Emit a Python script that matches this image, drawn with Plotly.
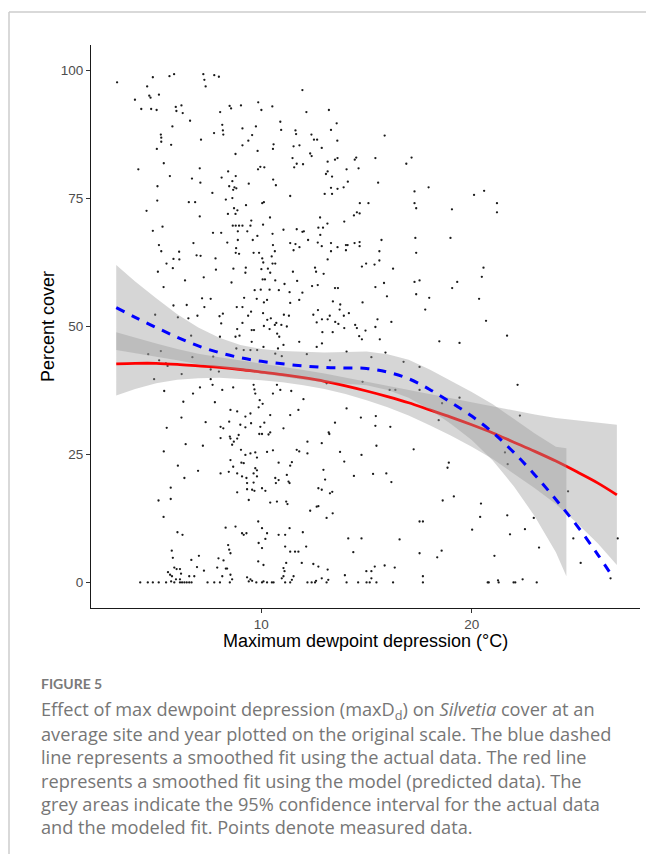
import plotly.graph_objects as go

# ---------------- data ----------------
# measured points: (max dewpoint depression, percent cover)
measured_points = [
    (3.14, 97.7), (3.99, 94.3), (4.15, 80.7), (4.29, 92.5), (4.57, 96.9), (4.67, 95.1), (4.73, 94.7),
    (4.76, 92.5), (4.84, 98.7), (5.02, 92.3), (5.13, 95.3), (5.22, 87.5), (5.24, 86.9), (5.24, 86.1),
    (5.03, 84.7), (5.06, 77.4), (5.05, 74.6), (5.36, 81.9), (5.30, 69.5), (4.54, 72.6), (4.84, 68.7),
    (5.13, 65.9), (5.24, 64.7), (5.08, 60.7), (5.35, 57.7), (5.49, 62.3), (5.65, 79.4), (5.71, 85.5),
    (5.77, 89.1), (5.79, 61.4), (5.82, 63.2), (5.85, 99.3), (5.63, 98.9), (5.93, 92.9), (5.96, 92.1),
    (6.20, 93.2), (6.26, 91.7), (6.09, 64.6), (6.10, 63.1), (5.82, 54.1), (6.37, 59.0), (6.45, 54.2),
    (6.53, 51.6), (6.55, 74.3), (6.61, 90.2), (6.70, 78.9), (6.77, 66.3), (6.85, 74.3), (6.92, 63.9),
    (7.07, 71.5), (7.07, 80.9), (7.10, 78.1), (7.13, 86.5), (7.24, 99.3), (7.29, 98.2), (7.35, 96.9),
    (7.11, 63.8), (7.26, 59.6), (7.29, 53.8), (7.59, 55.4), (7.67, 76.1), (7.70, 68.3), (7.75, 87.8),
    (7.76, 99.1), (7.82, 63.3), (7.84, 61.1), (7.98, 98.8), (8.04, 91.9), (8.09, 68.3), (8.11, 79.1),
    (8.14, 89.4), (8.17, 88.3), (8.19, 87.5), (8.31, 74.8), (8.38, 66.4), (8.41, 72.0), (8.42, 80.3),
    (8.47, 77.4), (8.49, 93.1),
    (4.95, 52.3), (6.03, 51.8), (6.66, 48.2), (6.96, 52.1), (7.18, 55.5), (8.01, 52.0), (8.03, 48.0),
    (8.17, 52.5), (8.09, 50.6),
    # upper middle
    (11.95, 96.2), (8.56, 92.6), (9.03, 93.2), (9.85, 93.8), (10.0, 92.3), (10.52, 93.0), (12.14, 91.9),
    (13.21, 92.3), (10.9, 90.0), (10.94, 88.4), (9.74, 89.1), (9.10, 88.7), (9.56, 87.4), (9.38, 86.3),
    (9.10, 85.4), (9.82, 84.3), (8.77, 83.7), (10.58, 85.6), (10.55, 84.7), (11.62, 88.3), (11.65, 87.6),
    (11.81, 85.4), (11.53, 85.2), (12.38, 87.5), (12.5, 86.5), (12.65, 86.5), (12.87, 84.9), (13.31, 88.4),
    (13.58, 89.7), (13.61, 86.3), (12.32, 83.8), (12.39, 83.3), (11.48, 82.9), (11.68, 81.8), (11.98, 81.7),
    (11.56, 81.1), (13.15, 82.2), (13.5, 82.6), (13.62, 82.9), (14.44, 82.6), (14.51, 83.0), (15.42, 82.9),
    (15.86, 87.3), (16.89, 81.8), (17.14, 83.0), (9.95, 81.2), (10.14, 81.1), (9.84, 80.7), (8.78, 79.4),
    (8.62, 78.4), (8.72, 77.2), (8.81, 77.0), (8.66, 76.7), (9.40, 77.9), (10.56, 78.7), (10.69, 77.6),
    (11.37, 75.5), (8.62, 75.1), (10.04, 74.1), (10.12, 74.3), (9.27, 73.7), (13.07, 79.8), (13.15, 80.3),
    (13.36, 79.3), (13.31, 77.1), (13.62, 76.9), (14.05, 80.7), (14.11, 78.3), (13.91, 77.2), (14.62, 80.9),
    (13.36, 75.9), (13.01, 75.9), (15.55, 78.1), (14.68, 74.1), (15.09, 74.1), (17.28, 76.4), (17.95, 77.2),
    (17.28, 74.1), (17.36, 73.1), (8.70, 73.1), (8.86, 72.7), (8.77, 72.0), (10.41, 71.3), (9.52, 70.7),
    (12.79, 71.3), (14.4, 71.7), (14.54, 72.3), (14.67, 72.1), (13.94, 70.5), (13.14, 70.1), (10.08, 69.9),
    (8.78, 69.7), (8.94, 69.7), (9.10, 69.7), (9.48, 69.7), (8.64, 69.7), (8.88, 68.6), (9.33, 68.6),
    (11.05, 68.9), (11.68, 69.0), (11.95, 68.5), (12.02, 68.6), (12.71, 69.3), (12.93, 69.3), (12.8, 67.9),
    (10.53, 68.1), (9.81, 67.7), (12.22, 66.9), (8.88, 66.9), (9.59, 66.9), (11.37, 66.3), (11.62, 66.1),
    (12.68, 66.4), (12.87, 65.7), (13.31, 66.3), (14.02, 65.9), (14.1, 65.9), (14.43, 66.3), (14.67, 66.5),
    (14.67, 65.7), (15.71, 66.9), (17.32, 67.3), (10.55, 65.9), (8.80, 65.3), (8.78, 64.4), (8.94, 64.2),
    (9.63, 64.4), (9.89, 64.4), (10.64, 64.7), (10.49, 63.7), (11.53, 64.9), (11.81, 65.5), (13.62, 65.5),
    (13.31, 64.7), (14.02, 64.9), (15.61, 64.7), (17.36, 64.4), (13.15, 63.1), (10.04, 63.3), (10.53, 62.3),
    (10.66, 62.3), (10.09, 62.5), (14.98, 62.3), (14.78, 61.7), (15.38, 62.1), (15.61, 62.9), (16.26, 61.3),
    (8.67, 61.3), (9.26, 61.5), (9.24, 60.5), (10.0, 61.2), (10.31, 61.3), (10.42, 60.5), (11.5, 60.7),
    (12.55, 61.5), (12.6, 60.7), (12.96, 60.3), (10.06, 59.2), (10.17, 59.2), (10.66, 59.0), (11.1, 58.3),
    (11.7, 58.9), (12.41, 57.9), (12.68, 58.1), (13.5, 57.5), (13.64, 57.5), (15.42, 57.7), (15.83, 58.5),
    (17.28, 58.7), (17.52, 59.0), (8.58, 58.6), (9.68, 57.1), (9.97, 57.2), (10.39, 57.2), (10.83, 57.1),
    (11.34, 56.7), (11.37, 54.6), (11.8, 55.2), (11.95, 56.6), (9.18, 55.6), (9.78, 55.4), (10.12, 54.7),
    (10.27, 55.2), (13.4, 54.9), (13.75, 54.3), (14.81, 54.7), (15.97, 55.9), (17.36, 56.3), (17.98, 55.6),
    (17.79, 53.3), (8.83, 53.8), (9.10, 53.8), (9.51, 52.9), (9.37, 52.1), (10.08, 52.6), (10.28, 51.3),
    (10.45, 51.6), (10.64, 50.3), (10.71, 50.7), (11.07, 52.3), (11.31, 52.1), (10.95, 50.3), (11.21, 50.0),
    (12.47, 52.3), (12.69, 53.2), (12.88, 51.4), (13.15, 51.4), (13.25, 52.1), (13.72, 53.3), (14.16, 52.6),
    (13.92, 52.1), (12.63, 50.8), (13.51, 50.9), (13.66, 50.5), (13.94, 49.7), (14.46, 50.3), (14.54, 49.7),
    (14.95, 49.2), (15.42, 49.9), (15.52, 51.4), (16.18, 50.9), (8.85, 49.5), (9.10, 50.7), (10.12, 50.1),
    (9.54, 49.3), (9.65, 49.3), (10.39, 49.5), (10.75, 48.6), (10.85, 48.0), (8.77, 48.0), (8.96, 48.2),
    (12.9, 48.9), (13.39, 48.9), (14.65, 48.1), (14.78, 47.5), (15.63, 47.5),
    # right upper
    (20.59, 76.5), (20.11, 75.7), (21.2, 74.1), (19.06, 72.9), (21.2, 72.3), (18.99, 67.3), (20.56, 61.5),
    (20.48, 59.7), (19.31, 58.7), (19.07, 57.5), (20.35, 55.4), (20.68, 51.1), (21.68, 48.2),
    # right lower
    (18.46, 47.1), (19.42, 46.8), (22.18, 38.6), (22.29, 32.6), (19.42, 36.1), (18.91, 23.4), (18.85, 22.4),
    (21.58, 25.4), (21.71, 23.1), (18.62, 16.0), (19.15, 16.8), (20.44, 15.4), (24.58, 17.8), (20.4, 12.8),
    (21.69, 13.1), (20.02, 10.3), (22.53, 10.4), (21.82, 9.4), (22.95, 12.6), (24.83, 8.6), (26.94, 8.6),
    (18.57, 6.2), (18.36, 4.9), (21.08, 5.2), (23.2, 6.8), (25.18, 3.8), (20.76, 0.0), (20.81, 0.0),
    (21.25, 0.4), (21.28, 0.0), (21.99, 0.0), (22.07, 0.0), (22.42, 0.6), (23.09, 0.0), (26.6, 0.8),
    # lower left
    (4.62, 44.6), (5.14, 43.4), (5.22, 45.2), (5.46, 42.8), (5.54, 42.3), (6.72, 44.0), (7.59, 41.6),
    (7.71, 44.1), (7.98, 41.2), (4.90, 39.7), (5.38, 37.4), (6.21, 40.7), (6.29, 35.3), (6.75, 36.9),
    (7.08, 38.1), (7.59, 39.7), (7.68, 38.6), (7.79, 35.2), (8.14, 37.6), (6.20, 32.2), (7.35, 31.3),
    (8.47, 31.4), (5.50, 30.2), (6.40, 27.0), (7.22, 26.7), (8.06, 30.4), (8.19, 30.1), (8.06, 28.2),
    (8.50, 28.5), (5.36, 25.6), (6.03, 22.8), (6.34, 20.4), (8.06, 21.3), (8.45, 21.6), (6.99, 21.8),
    (5.11, 16.0), (5.69, 18.5), (5.69, 16.3), (5.35, 12.8), (6.01, 9.8), (6.25, 9.3), (8.30, 10.7),
    (5.56, 2.0), (5.66, 1.5), (5.75, 1.2), (5.97, 2.6), (6.13, 2.6), (6.18, 1.7), (6.13, 0.6), (5.94, 0.6),
    (5.71, 0.2), (5.86, 2.9), (6.57, 1.2), (6.81, 1.2), (6.94, 3.0), (6.67, 4.4), (7.03, 5.2), (7.90, 2.9),
    (7.96, 4.7), (8.20, 4.3), (8.31, 2.7), (8.37, 2.7), (8.42, 7.3), (8.47, 6.4), (5.74, 6.2), (5.79, 4.8),
    (8.14, 1.2), (7.27, 2.3),
    (4.24, 0.0), (4.60, 0.0), (4.84, 0.0), (5.12, 0.0), (5.47, 0.0), (5.86, 0.0), (6.13, 0.0), (6.23, 0.0),
    (6.34, 0.0), (6.45, 0.0), (6.57, 0.0), (6.68, 0.0), (7.44, 0.0), (7.76, 0.0), (8.03, 0.0), (8.50, 0.0),
    # lower middle
    (12.88, 46.7), (9.54, 47.0), (11.8, 47.0), (12.16, 44.6), (14.05, 45.1), (15.23, 44.0), (15.9, 44.9),
    (16.76, 43.1), (17.52, 42.1), (10.66, 44.7), (10.97, 44.2), (10.79, 45.7), (11.05, 46.4), (9.48, 45.4),
    (9.80, 45.4), (10.1, 46.0), (8.81, 45.7), (9.16, 45.4), (13.26, 43.4), (12.63, 46.0), (13.1, 38.9),
    (14.81, 39.2), (10.74, 38.6), (10.9, 37.6), (10.55, 36.9), (11.42, 37.4), (8.66, 38.1), (9.63, 38.6),
    (9.67, 37.7), (9.71, 36.9), (16.1, 37.6), (16.37, 37.6), (17.52, 37.6), (12.0, 35.8), (9.92, 35.6),
    (10.06, 34.9), (9.87, 34.2), (11.76, 33.7), (8.85, 33.4), (8.53, 33.7), (14.05, 34.0), (9.48, 33.0),
    (9.24, 32.4), (11.37, 32.7), (10.42, 32.7), (13.5, 31.2), (14.73, 32.2), (15.44, 32.5), (18.59, 35.0),
    (18.43, 31.7), (9.00, 30.8), (9.24, 30.3), (9.51, 31.1), (10.14, 31.2), (9.95, 30.4), (11.05, 30.1),
    (13.2, 29.3), (13.23, 29.0), (15.42, 30.6), (16.13, 30.4), (8.92, 28.8), (8.85, 28.1), (8.69, 27.5),
    (8.61, 26.9), (9.90, 29.0), (10.03, 29.0), (10.34, 28.9), (10.42, 29.3), (12.87, 27.2), (8.53, 28.1),
    (12.19, 27.5), (15.47, 26.7), (17.24, 26.0), (9.03, 25.9), (9.24, 24.9), (9.48, 25.2), (9.71, 25.4),
    (9.79, 24.4), (10.27, 25.5), (10.55, 25.8), (11.68, 25.9), (11.8, 25.6), (12.19, 25.2), (13.74, 25.5),
    (14.76, 24.9), (8.53, 23.9), (9.05, 23.4), (9.16, 23.3), (10.82, 23.4), (11.45, 23.5), (11.37, 22.8),
    (13.94, 23.6), (15.31, 21.2), (15.94, 21.3), (16.18, 19.6), (14.4, 20.8), (8.66, 22.6), (8.85, 21.3),
    (9.08, 20.7), (9.32, 19.4), (9.71, 22.3), (9.79, 21.9), (9.63, 21.3), (9.79, 20.7), (9.29, 20.4),
    (9.63, 19.5), (10.66, 20.4), (10.82, 20.0), (10.69, 19.4), (11.21, 21.0), (11.29, 19.7), (11.34, 19.4),
    (12.95, 22.0), (12.71, 18.4), (12.87, 18.1), (13.26, 17.4), (13.37, 17.7), (13.03, 20.1), (8.85, 17.6),
    (9.32, 18.2), (9.56, 18.1), (9.67, 17.9), (10.03, 18.4), (10.19, 17.9), (10.42, 15.6), (9.40, 16.1),
    (10.74, 15.8), (11.18, 15.8), (11.24, 15.3), (12.32, 14.0), (12.63, 14.8), (12.71, 14.9), (13.39, 13.5),
    (13.1, 12.6), (17.52, 11.9), (17.68, 11.9), (8.77, 10.9), (9.08, 9.6), (9.16, 9.3), (9.29, 9.6),
    (9.85, 11.9), (10.03, 10.6), (10.19, 8.5), (10.27, 9.6), (9.87, 7.7), (10.03, 6.7), (10.82, 9.3),
    (11.13, 9.3), (11.34, 10.6), (11.97, 9.8), (11.13, 7.0), (11.37, 6.0), (11.6, 6.0), (11.76, 6.0),
    (12.13, 7.0), (14.13, 8.6), (14.76, 8.6), (16.57, 8.4), (17.52, 5.7), (8.53, 5.7), (9.85, 4.1),
    (10.1, 3.4), (11.18, 3.8), (11.05, 2.8), (11.1, 2.2), (11.92, 3.8), (12.47, 3.6), (12.71, 3.1),
    (13.15, 2.5), (14.37, 5.9), (15.39, 3.1), (15.86, 3.3), (16.34, 2.9), (14.99, 2.2), (15.23, 2.2),
    (17.68, 1.2), (8.53, 1.5), (8.61, 0.6),
    (9.32, 1.0), (9.48, 0.6), (9.56, 0.3), (9.40, 0.2), (9.76, 0.0), (10.03, 0.0), (10.1, 0.2), (10.27, 0.0),
    (10.5, 0.0), (10.58, 0.0), (10.97, 0.8), (11.05, 1.2), (11.13, 0.0), (11.37, 0.0), (11.45, 0.5),
    (11.53, 1.2), (12.19, 0.0), (12.39, 0.0), (12.55, 0.0), (12.6, 0.3), (12.87, 0.8), (13.1, 0.0),
    (13.18, 0.5), (13.97, 1.4), (14.05, 0.0), (14.6, 0.0), (15.0, 0.0), (15.15, 0.0), (15.23, 0.8),
    (15.47, 0.0), (16.26, 0.0), (17.68, 0.0),
]

# model (predicted) smooth -- red line with its 95% CI
model_x = [3.1, 4, 5, 6, 7, 8, 9, 10, 11, 12, 13, 14, 15, 16, 17, 18, 19, 20, 21, 22, 23, 24, 25, 26, 26.9]
model_fit = [42.7, 42.8, 42.8, 42.6, 42.3, 42.0, 41.6, 41.1, 40.6, 40.0, 39.3, 38.4, 37.4, 36.3, 35.1,
             33.7, 32.3, 30.8, 29.2, 27.4, 25.6, 23.7, 21.6, 19.4, 17.1]
model_lower = [36.5, 37.8, 38.9, 39.6, 39.9, 40.0, 39.8, 39.5, 39.1, 38.5, 37.8, 36.8, 35.6, 34.2, 32.6,
               30.7, 28.7, 26.5, 24.1, 21.3, 18.4, 15.3, 11.6, 7.6, 3.4]
model_upper = [48.9, 47.8, 46.7, 45.6, 44.7, 44.0, 43.4, 42.7, 42.1, 41.5, 40.8, 40.0, 39.2, 38.4, 37.6,
               36.7, 35.9, 35.1, 34.3, 33.5, 32.8, 32.1, 31.6, 31.2, 30.8]

# actual-data smooth -- blue dashed line with its 95% CI
data_x = [3.1, 4, 5, 6, 7, 8, 9, 10, 11, 12, 13, 14, 15, 16, 17, 18, 19, 20, 21, 22, 23, 24, 25, 26, 26.65]
data_fit = [53.7, 51.8, 49.8, 47.9, 46.2, 44.9, 43.9, 43.2, 42.7, 42.3, 42.0, 41.9, 41.8, 41.1, 39.8,
            37.7, 35.2, 32.5, 29.3, 25.4, 21.0, 16.2, 11.1, 5.4, 1.4]
data_band_x = [3.1, 4, 5, 6, 7, 8, 9, 10, 11, 12, 13, 14, 15, 16, 17, 18, 19, 20, 21, 22, 23, 24, 24.5]
data_lower = [45.4, 44.8, 44.1, 43.4, 42.6, 42.0, 41.4, 40.8, 40.2, 39.6, 39.1, 38.8, 38.5, 37.6, 36.1,
              33.8, 31.0, 27.8, 23.8, 18.8, 12.9, 5.9, 1.2]
data_upper = [62.0, 58.8, 55.5, 52.4, 49.8, 47.8, 46.4, 45.6, 45.2, 45.0, 44.9, 45.0, 45.1, 44.6, 43.5,
              41.6, 39.4, 37.2, 34.8, 32.0, 29.1, 26.5, 26.2]

x_ticks = [10, 20]
y_ticks = [0, 25, 50, 75, 100]

caption_title = "FIGURE 5"
caption_lines = [
    "Effect of max dewpoint depression (maxD<sub>d</sub>) on <i>Silvetia</i> cover at an",
    "average site and year plotted on the original scale. The blue dashed",
    "line represents a smoothed fit using the actual data. The red line",
    "represents a smoothed fit using the model (predicted data). The",
    "grey areas indicate the 95% confidence interval for the actual data",
    "and the modeled fit. Points denote measured data.",
]

# ---------------- layout geometry (pixels) ----------------
W, H = 646, 854
ML, MR, MT, MB = 91, 6, 45, 246
PW, PH = W - ML - MR, H - MT - MB


def px_x(p):
    return (p - ML) / PW


def px_y(p):
    return (H - MB - p) / PH


fig = go.Figure()

pts_x = [p[0] for p in measured_points]
pts_y = [p[1] for p in measured_points]
fig.add_trace(go.Scatter(x=pts_x, y=pts_y, mode="markers",
                         marker=dict(size=2.3, color="#1a1a1a", line=dict(width=0)),
                         hoverinfo="skip", showlegend=False))

band_fill = "rgba(153,153,153,0.4)"

fig.add_trace(go.Scatter(x=model_x + model_x[::-1], y=model_upper + model_lower[::-1],
                         fill="toself", fillcolor=band_fill, line=dict(width=0),
                         mode="lines", hoverinfo="skip", showlegend=False))
fig.add_trace(go.Scatter(x=model_x, y=model_fit, mode="lines",
                         line=dict(color="#ff0000", width=2.8, shape="spline"),
                         hoverinfo="skip", showlegend=False))
fig.add_trace(go.Scatter(x=data_band_x + data_band_x[::-1], y=data_upper + data_lower[::-1],
                         fill="toself", fillcolor=band_fill, line=dict(width=0),
                         mode="lines", hoverinfo="skip", showlegend=False))
fig.add_trace(go.Scatter(x=data_x, y=data_fit, mode="lines",
                         line=dict(color="#0000ff", width=3, dash="9px,8px", shape="spline"),
                         hoverinfo="skip", showlegend=False))

axis_common = dict(showgrid=False, zeroline=False, showline=True, linecolor="#1a1a1a", linewidth=1.1,
                   ticks="outside", ticklen=4, tickwidth=1, tickcolor="#333333",
                   tickfont=dict(family="Liberation Sans, Arial, sans-serif", size=13.5, color="#4d4d4d"))

fig.update_xaxes(range=[1.9, 28.0], tickvals=x_ticks, **axis_common)
fig.update_yaxes(range=[-5, 105], tickvals=y_ticks, **axis_common)

annotations = [
    dict(text="Maximum dewpoint depression (°C)", x=0.5, y=px_y(641), xref="paper", yref="paper",
         xanchor="center", yanchor="middle", showarrow=False,
         font=dict(family="Liberation Sans, Arial, sans-serif", size=18, color="#000000")),
    dict(text="Percent cover", x=px_x(47.5), y=0.5, xref="paper", yref="paper", textangle=-90,
         xanchor="center", yanchor="middle", showarrow=False,
         font=dict(family="Liberation Sans, Arial, sans-serif", size=18, color="#000000")),
    dict(text="<b>" + caption_title + "</b>", x=px_x(39), y=px_y(683), xref="paper", yref="paper",
         xanchor="left", yanchor="middle", showarrow=False,
         font=dict(family="Lato, sans-serif", size=14, color="#7a7a7a")),
]
for i, line in enumerate(caption_lines):
    annotations.append(dict(text=line, x=px_x(39), y=px_y(711 + 23.2 * i), xref="paper", yref="paper",
                            xanchor="left", yanchor="middle", showarrow=False,
                            font=dict(family="Open Sans, sans-serif", size=18.2, color="#767676")))

shapes = [
    dict(type="line", xref="paper", yref="paper", x0=px_x(9), x1=px_x(660), y0=px_y(12), y1=px_y(12),
         line=dict(color="#cccccc", width=1.5)),
    dict(type="line", xref="paper", yref="paper", x0=px_x(9), x1=px_x(9), y0=px_y(12), y1=px_y(870),
         line=dict(color="#cccccc", width=1.5)),
]

fig.update_layout(width=W, height=H, margin=dict(l=ML, r=MR, t=MT, b=MB, pad=0),
                  paper_bgcolor="white", plot_bgcolor="white", showlegend=False,
                  annotations=annotations, shapes=shapes)

fig.write_html("out.html", config={"displayModeBar": False},
               post_script="document.body.style.margin='0';document.body.style.padding='0';")
